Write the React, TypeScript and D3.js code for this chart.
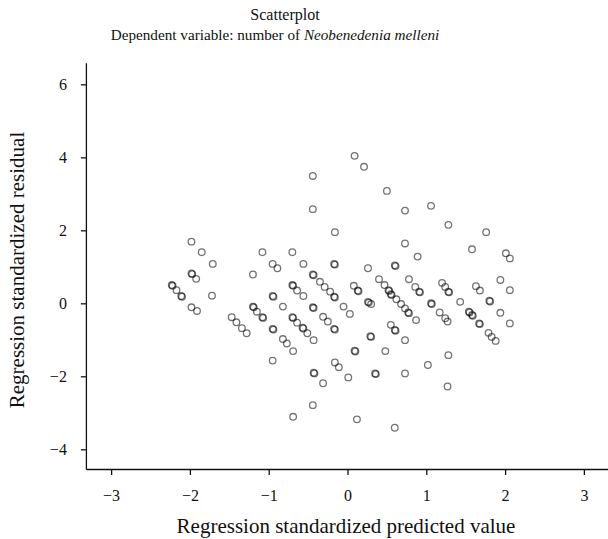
import React, { useEffect, useRef } from 'react';
import * as d3 from 'd3';

// regression standardized predicted value (x) and residual (y);
// dark rings in the original are overlapping cases, so they appear twice here
const predicted = [
  -2.23, -2.22, -2.17, -2.11, -2.1, -1.98, -1.85, -1.71, -1.98, -1.97, -1.92, -1.72, -1.98, -1.91,
  -1.47, -1.41, -1.34, -1.28, -1.08, -1.2, -1.2, -1.19, -1.15, -1.08, -1.07, -0.95,
  -0.95, -0.94, -0.95, -0.94, -0.95, -0.89, -0.82, -0.82, -0.77, -0.69,
  -0.7, -0.56, -0.7, -0.69, -0.64, -0.56, -0.7, -0.69, -0.64, -0.57, -0.56, -0.51, -0.43, -0.69, -0.44,
  -0.44, -0.44, -0.44, -0.43, -0.35, -0.29, -0.22, -0.17, -0.16, -0.44, -0.43, -0.31, -0.25, -0.17, -0.16,
  -0.43, -0.42, -0.31, -0.16, -0.17, -0.16, -0.16, -0.11, 0.01, -0.05, 0.03, 0.08, 0.13, 0.14, 0.09, 0.1,
  0.09, 0.21, 0.12,
  0.26, 0.6, 0.61, 0.4, 0.47, 0.52, 0.53, 0.55, 0.56, 0.62, 0.68, 0.73, 0.77, 0.78, 0.87, 0.78, 0.86,
  0.91, 0.92, 0.26, 0.27, 0.3, 0.55, 0.6, 0.61, 0.73, 0.29, 0.3, 0.48, 0.35, 0.36, 0.73, 0.5, 0.73,
  0.73, 0.89, 0.6,
  1.06, 1.28, 1.2, 1.24, 1.28, 1.29, 1.06, 1.07, 1.17, 1.24, 1.27, 1.02, 1.28, 1.27,
  1.76, 1.58, 2.01, 2.06, 1.94, 2.06, 1.63, 1.68, 1.43, 1.8, 1.81, 1.54, 1.55, 1.58, 1.59, 1.67, 1.68,
  1.94, 2.06, 1.79, 1.83, 1.88,
];

const residual = [
  0.5, 0.48, 0.36, 0.2, 0.18, 1.69, 1.4, 1.08, 0.82, 0.8, 0.67, 0.21, -0.11, -0.21,
  -0.38, -0.52, -0.68, -0.82, 1.4, 0.79, -0.09, -0.11, -0.23, -0.38, -0.4, -1.57,
  0.2, 0.18, -0.7, -0.72, 1.08, 0.96, -0.09, -0.98, -1.1, -1.31,
  1.4, 1.08, 0.5, 0.48, 0.35, 0.2, -0.38, -0.4, -0.53, -0.67, -0.69, -0.82, -1.01, -3.11, -2.79,
  3.49, 2.58, 0.79, 0.77, 0.59, 0.45, 0.32, 0.18, 0.16, -0.11, -0.13, -0.37, -0.5, -0.7, -0.72,
  -1.9, -1.92, -2.19, 1.95, 1.08, 1.06, -1.62, -1.75, -2.03, -0.09, -0.29, 0.48, 0.35, 0.33, -1.3, -1.32,
  4.04, 3.74, -3.18,
  0.96, 1.04, 1.02, 0.66, 0.5, 0.36, 0.34, 0.25, 0.23, 0.11, -0.02, -0.14, -0.25, -0.27, -0.46, 0.66, 0.45,
  0.32, 0.3, 0.04, 0.02, -0.02, -0.59, -0.73, -0.75, -1.01, -0.9, -0.92, -1.31, -1.92, -1.94, -1.92, 3.08, 2.54,
  1.64, 1.28, -3.41,
  2.67, 2.15, 0.56, 0.45, 0.32, 0.3, 0.0, -0.02, -0.25, -0.41, -0.5, -1.69, -1.42, -2.28,
  1.95, 1.48, 1.37, 1.23, 0.64, 0.36, 0.47, 0.35, 0.04, 0.07, 0.05, -0.23, -0.25, -0.32, -0.34, -0.55, -0.57,
  -0.26, -0.55, -0.81, -0.92, -1.03,
];

const xTicks = [-3, -2, -1, 0, 1, 2, 3];
const yTicks = [-4, -2, 0, 2, 4, 6];

const App: React.FC = () => {
  const svgRef = useRef<SVGSVGElement>(null);

  useEffect(() => {
    if (!svgRef.current) return;
    const svg = d3.select(svgRef.current);
    svg.selectAll('*').remove();

    const font = '"Liberation Serif", "DejaVu Serif", serif';
    const fmt = d3.format('d');

    const x = d3.scaleLinear().domain([-3.32, 3.32]).range([85.9, 609.1]);
    const y = d3.scaleLinear().domain([-4.54, 6.59]).range([469, 62.8]);

    // axes
    const xAxis = svg.append('g')
      .attr('transform', `translate(0,${y(-4.54)})`)
      .call(d3.axisBottom(x).tickValues(xTicks).tickFormat(d => fmt(d as number))
        .tickSize(6).tickSizeOuter(0).tickPadding(15));
    const yAxis = svg.append('g')
      .attr('transform', `translate(${x(-3.32)},0)`)
      .call(d3.axisLeft(y).tickValues(yTicks).tickFormat(d => fmt(d as number))
        .tickSize(5).tickSizeOuter(0).tickPadding(14));

    [xAxis, yAxis].forEach(a => {
      a.selectAll('path, line').attr('stroke', '#111').attr('stroke-width', 1.3);
      a.selectAll('text')
        .attr('fill', '#111')
        .style('font-family', font)
        .style('font-size', '16px');
    });

    // points
    svg.append('g')
      .selectAll('circle')
      .data(predicted.map((p, i) => [p, residual[i]]))
      .join('circle')
      .attr('cx', d => x(d[0]))
      .attr('cy', d => y(d[1]))
      .attr('r', 3.3)
      .attr('fill', 'none')
      .attr('stroke', '#000')
      .attr('stroke-opacity', 0.55)
      .attr('stroke-width', 1.3);

    // titles
    svg.append('text')
      .attr('x', 285).attr('y', 20)
      .attr('text-anchor', 'middle')
      .style('font-family', font).style('font-size', '16px').attr('fill', '#111')
      .text('Scatterplot');

    const sub = svg.append('text')
      .attr('x', 275).attr('y', 40)
      .attr('text-anchor', 'middle')
      .style('font-family', font).style('font-size', '15.2px').attr('fill', '#111');
    sub.append('tspan').text('Dependent variable: number of ');
    sub.append('tspan').style('font-style', 'italic').text('Neobenedenia melleni');

    svg.append('text')
      .attr('x', 346).attr('y', 533)
      .attr('text-anchor', 'middle')
      .style('font-family', font).style('font-size', '21px').attr('fill', '#111')
      .text('Regression standardized predicted value');

    svg.append('text')
      .attr('transform', 'translate(24,270) rotate(-90)')
      .attr('text-anchor', 'middle')
      .style('font-family', font).style('font-size', '21px').attr('fill', '#111')
      .text('Regression standardized residual');
  }, []);

  return (
    <svg
      ref={svgRef}
      width={608}
      height={539}
      style={{ position: 'absolute', left: 0, top: 0, display: 'block', background: '#fff' }}
    />
  );
};

export default App;
